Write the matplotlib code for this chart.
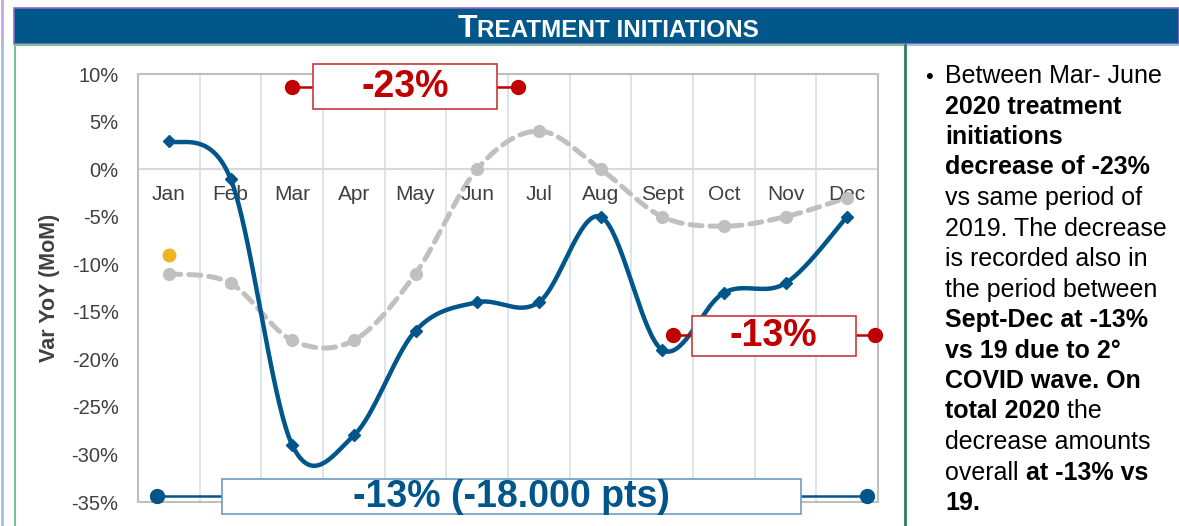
import numpy as np
import matplotlib
matplotlib.use("Agg")
import matplotlib.pyplot as plt
from matplotlib.patches import Rectangle
from matplotlib.lines import Line2D

plt.rcParams['font.family'] = ['Liberation Sans', 'DejaVu Sans']

W, H, DPI = 1179, 526, 100

# ---------------------------------------------------------------
# data
# ---------------------------------------------------------------
months = ['Jan', 'Feb', 'Mar', 'Apr', 'May', 'Jun',
          'Jul', 'Aug', 'Sept', 'Oct', 'Nov', 'Dec']
var_2020 = [3, -1, -29, -28, -17, -14, -14, -5, -19, -13, -12, -5]
var_2019 = [-11, -12, -18, -18, -11, 0, 4, 0, -5, -6, -5, -3]
jan_point = -9

yticks = [10, 5, 0, -5, -10, -15, -20, -25, -30, -35]

title_runs = [('T', 23), ('REATMENT INITIATIONS', 17.5)]

note_lines = [
    [('Between Mar- June', 'normal')],
    [('2020 treatment', 'bold')],
    [('initiations', 'bold')],
    [('decrease of -23%', 'bold')],
    [('vs same period of', 'normal')],
    [('2019. The decrease', 'normal')],
    [('is recorded also in', 'normal')],
    [('the period between', 'normal')],
    [('Sept-Dec at -13%', 'bold')],
    [('vs 19 due to 2°', 'bold')],
    [('COVID wave. On', 'bold')],
    [('total 2020', 'bold'), (' the', 'normal')],
    [('decrease amounts', 'normal')],
    [('overall ', 'normal'), ('at -13% vs', 'bold')],
    [('19.', 'bold')],
]

BLUE = '#00558A'
GREY = '#C0C0C0'
RED = '#C00000'
YELLOW = '#F0B323'
HEADER = '#02578A'


def smooth(xs, ys, n=40):
    """Excel-like smoothed line (Catmull-Rom through every point)."""
    p = np.column_stack([xs, ys]).astype(float)
    p = np.vstack([p[0], p, p[-1]])
    out = []
    t = np.linspace(0, 1, n)[:, None]
    for i in range(1, len(p) - 2):
        p0, p1, p2, p3 = p[i - 1], p[i], p[i + 1], p[i + 2]
        c1 = p1 + (p2 - p0) / 6
        c2 = p2 - (p3 - p1) / 6
        seg = ((1 - t) ** 3) * p1 + 3 * ((1 - t) ** 2) * t * c1 \
            + 3 * (1 - t) * t ** 2 * c2 + t ** 3 * p2
        out.append(seg if i == 1 else seg[1:])
    out = np.vstack(out)
    return out[:, 0], out[:, 1]


def fx(px):
    return px / W


def fy(py):
    return 1 - py / H


fig = plt.figure(figsize=(W / DPI, H / DPI), dpi=DPI)
renderer = fig.canvas.get_renderer()

# ---------------------------------------------------------------
# frame decoration: header bar and green box
# ---------------------------------------------------------------
fig.patches.append(Rectangle((fx(14), fy(44)), 1 - fx(14), fy(8) - fy(44),
                             transform=fig.transFigure, facecolor=HEADER,
                             edgecolor='#8E6BBF', lw=1.2))
fig.add_artist(Line2D([fx(15), fx(905)], [fy(45), fy(45)], color='#7FC09A', lw=1.5))
fig.add_artist(Line2D([fx(905), 1], [fy(45), fy(45)], color='#9FC3DD', lw=1.5))
fig.add_artist(Line2D([fx(15), fx(15)], [fy(45), 0], color='#7FC09A', lw=1.5))
fig.add_artist(Line2D([fx(905), fx(905)], [fy(45), 0], color='#2E7D5B', lw=2))
fig.add_artist(Line2D([fx(1.5), fx(1.5)], [fy(0), fy(44)], color='#C8A8E0', lw=2))
fig.add_artist(Line2D([fx(1.5), fx(1.5)], [fy(44), 0], color='#9FC3DD', lw=2))


def run_width(text, size, weight):
    t = fig.text(0, 0, text, fontsize=size, fontweight=weight)
    w = t.get_window_extent(renderer).width
    t.remove()
    return w


# header title in small caps
widths = [run_width(s, sz, 'bold') for s, sz in title_runs]
x = 608 - sum(widths) / 2
for (s, sz), w in zip(title_runs, widths):
    fig.text(fx(x), fy(37), s, fontsize=sz, fontweight='bold',
             color='white', va='baseline', ha='left')
    x += w

# ---------------------------------------------------------------
# chart
# ---------------------------------------------------------------
ax = fig.add_axes([fx(138), fy(502), fx(878) - fx(138), fy(74) - fy(502)])
xs = np.arange(len(months))

ax.set_xlim(-0.5, len(months) - 0.5)
ax.set_ylim(-35, 10)
ax.set_yticks(yticks)
ax.set_yticklabels([f'{v}%' for v in yticks], fontsize=14.5, color='#404040')
ax.tick_params(axis='y', length=0, pad=14)
ax.set_xticks([])
for s in ax.spines.values():
    s.set_color('#BFBFBF')
    s.set_linewidth(1.5)

for b in np.arange(0.5, len(months) - 0.5, 1):
    ax.axvline(b, color='#D6DEE6', lw=1.2, zorder=0)
ax.axhline(0, color='#D9D9D9', lw=1.5, zorder=0)

for i, m in enumerate(months):
    ax.annotate(m, (i, 0), xytext=(0, -18), textcoords='offset points',
                ha='center', va='center', fontsize=15, color='#404040')

sx, sy = smooth(xs, var_2019)
ax.plot(sx, sy, color=GREY, lw=3.6, dashes=(2.4, 1.6), dash_capstyle='round',
        zorder=2)
ax.plot(xs, var_2019, 'o', color=GREY, ms=8.5, zorder=3)

sx, sy = smooth(xs, var_2020)
ax.plot(sx, sy, color=BLUE, lw=3.2, zorder=4)
ax.plot(xs, var_2020, 'D', color=BLUE, ms=6.5, zorder=5)

ax.plot([0], [jan_point], 'o', color=YELLOW, ms=9, zorder=5)


def callout(x0, x1, y, box, text, color, edge, size):
    bx0, bx1, by0, by1 = box
    ax.plot([x0, x1], [y, y], color=color, lw=1.8, zorder=6, clip_on=False)
    ax.plot([x0, x1], [y, y], 'o', color=color, ms=10, zorder=7, clip_on=False)
    ax.add_patch(Rectangle((bx0, by0), bx1 - bx0, by1 - by0, facecolor='white',
                           edgecolor=edge, lw=1.2, zorder=8, clip_on=False))
    ax.text((bx0 + bx1) / 2, (by0 + by1) / 2, text, color=color, fontsize=size,
            fontweight='bold', ha='center', va='center', zorder=9, clip_on=False)


callout(2.0, 5.66, 8.6, (2.34, 5.32, 6.3, 11.05), '-23%', RED, '#C8383A', 27)
callout(8.18, 11.45, -17.4, (8.48, 11.14, -19.6, -15.4), '-13%', RED, '#C8383A', 27)
callout(-0.19, 11.32, -34.4, (0.86, 10.25, -36.3, -32.6), '-13% (-18.000 pts)',
        BLUE, '#6F9CC0', 27)

fig.text(fx(50), fy(288), 'Var YoY (MoM)', rotation=90, fontsize=15.5,
         fontweight='bold', color='#404040', ha='center', va='center')

# ---------------------------------------------------------------
# commentary on the right
# ---------------------------------------------------------------
fs = 18
fig.text(fx(925), fy(83), '•', fontsize=16, va='baseline', ha='left')
for k, line in enumerate(note_lines):
    x = 945
    yb = 83 + 30.5 * k
    for s, wt in line:
        fig.text(fx(x), fy(yb), s, fontsize=fs, fontweight=wt, color='black',
                 va='baseline', ha='left')
        x += run_width(s, fs, wt)

fig.savefig('out.png', dpi=DPI)
